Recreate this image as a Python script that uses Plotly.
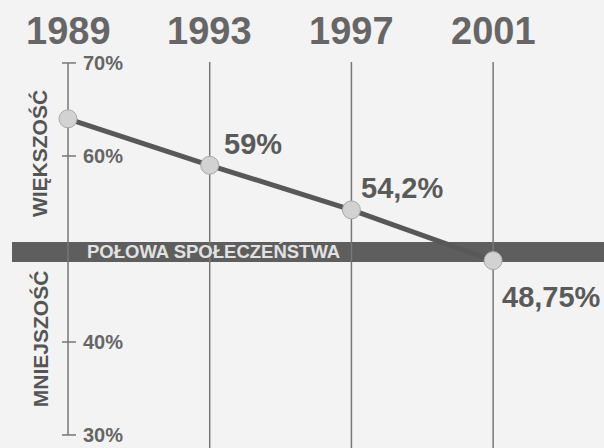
import plotly.graph_objects as go

years = [1989, 1993, 1997, 2001]
share = [64.0, 59.0, 54.2, 48.75]
value_labels = ["", "59%", "54,2%", "48,75%"]
tick_vals = [70, 60, 40, 30]
tick_text = ["70%", "60%", "40%", "30%"]
band_text = "POŁOWA SPOŁECZEŃSTWA"
upper_text = "WIĘKSZOŚĆ"
lower_text = "MNIEJSZOŚĆ"

# label offsets (pixels) relative to each point
label_dx = [0, 12, 8, 7]
label_dy = [0, 21, 22, -36]

BG = "#f3f3f3"
DARK = "#585858"
GREY = "#777777"
SANS = "Liberation Sans, Arial, sans-serif"

fig = go.Figure()

shapes = []
# vertical year guide lines (except the axis year)
for yr in years[1:]:
    shapes.append(dict(type="line", xref="x", yref="y", x0=yr, x1=yr, y0=70.1, y1=28.6,
                       line=dict(color=GREY, width=1.5), layer="below"))
# main axis at first year
shapes.append(dict(type="line", xref="x", yref="y", x0=years[0], x1=years[0], y0=30, y1=70,
                   line=dict(color=GREY, width=1.5), layer="below"))
for tv in tick_vals:
    shapes.append(dict(type="line", xref="x", yref="y", xsizemode="pixel", xanchor=years[0],
                       x0=-6, x1=8, y0=tv, y1=tv, line=dict(color=GREY, width=1.5), layer="below"))
# half-of-society band
shapes.append(dict(type="rect", xref="paper", yref="y", x0=12/604, x1=1, y0=48.6, y1=50.75,
                   fillcolor="#5e5e5e", line=dict(width=0), layer="below"))

fig.add_trace(go.Scatter(
    x=years, y=share, mode="lines+markers",
    line=dict(color=DARK, width=5),
    marker=dict(size=18, color="#d2d2d2", line=dict(color="#a8a8a8", width=1)),
    hoverinfo="skip", showlegend=False))

ann = []
for yr in years:
    ann.append(dict(x=yr, y=1, xref="x", yref="paper", yanchor="top", yshift=-8,
                    text=str(yr), showarrow=False,
                    font=dict(family=SANS, size=38, color="#666666", weight="bold")))
for tv, tt in zip(tick_vals, tick_text):
    ann.append(dict(x=years[0], y=tv, xref="x", yref="y", xanchor="left", yanchor="middle",
                    xshift=13, yshift=0, text=tt, showarrow=False,
                    font=dict(family=SANS, size=20, color="#666666", weight="bold")))
for yr, v, lt, dx, dy in zip(years, share, value_labels, label_dx, label_dy):
    if lt:
        ann.append(dict(x=yr, y=v, xref="x", yref="y", xanchor="left", yanchor="middle",
                        xshift=dx, yshift=dy, text=lt, showarrow=False,
                        font=dict(family=SANS, size=29, color="#5a5a5a", weight="bold")))
ann.append(dict(x=85/604, y=49.7, xref="paper", yref="y", xanchor="left", yanchor="middle",
                text=band_text, showarrow=False,
                font=dict(family=SANS, size=18.5, color="#e2e2e2", weight="bold")))
ann.append(dict(x=39/604, y=60.2, xref="paper", yref="y", xanchor="center", yanchor="middle",
                text=upper_text, textangle=-90, showarrow=False,
                font=dict(family=SANS, size=21, color="#555555", weight="bold")))
ann.append(dict(x=40/604, y=40.3, xref="paper", yref="y", xanchor="center", yanchor="middle",
                text=lower_text, textangle=-90, showarrow=False,
                font=dict(family=SANS, size=21, color="#555555", weight="bold")))

fig.update_layout(
    width=604, height=448, margin=dict(l=0, r=0, t=0, b=0),
    paper_bgcolor=BG, plot_bgcolor=BG,
    xaxis=dict(range=[1987.08, 2004.13], visible=False, fixedrange=True),
    yaxis=dict(range=[28.6, 76.77], visible=False, fixedrange=True),
    shapes=shapes, annotations=ann, showlegend=False)

fig.write_html("out.html", config={"displayModeBar": False},
               post_script="document.body.style.margin='0';document.body.style.overflow='hidden';")
